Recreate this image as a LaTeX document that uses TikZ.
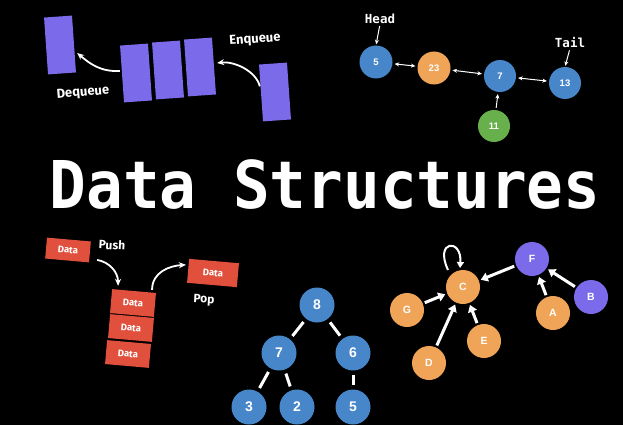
\documentclass[tikz,border=0pt]{standalone}
\usepackage{fontspec}
\setmainfont{Fira Sans}
\newfontfamily\monofont{DejaVu Sans Mono}
\newfontfamily\numfont{Liberation Sans}
\usetikzlibrary{arrows.meta,calc}
\definecolor{qpurple}{RGB}{123,106,234}
\definecolor{nblue}{RGB}{72,134,202}
\definecolor{norange}{RGB}{240,164,88}
\definecolor{ngreen}{RGB}{104,176,76}
\definecolor{sred}{RGB}{224,80,60}
\tikzset{
  qbox/.style={fill=qpurple, draw=none, minimum width=28pt, minimum height=57pt, inner sep=0pt, rotate=4},
  sbox/.style={fill=sred, draw=none, minimum width=44pt, minimum height=21pt, inner sep=0pt, rotate=-5, text=white, font=\bfseries\fontsize{9.5}{10}\selectfont},
  lbl/.style={text=white, font=\bfseries\fontsize{13}{14}\selectfont, inner sep=0pt},
  mlbl/.style={text=white, font=\monofont\bfseries\fontsize{12.5}{13}\selectfont, inner sep=0pt},
  llnode/.style={circle, draw=none, minimum size=33pt, inner sep=0pt, text=white, font=\numfont\bfseries\fontsize{9.5}{10}\selectfont},
  trnode/.style={circle, fill=nblue, draw=none, minimum size=35pt, inner sep=0pt, text=white, font=\numfont\bfseries\fontsize{14}{15}\selectfont},
  grnode/.style={circle, draw=none, minimum size=34pt, inner sep=0pt, text=white, font=\numfont\bfseries\fontsize{10.5}{11}\selectfont},
  qarrow/.style={draw=white, line width=1.8pt, -{Stealth[length=7pt,width=6pt]}},
  larrow/.style={draw=white, line width=1pt, -{Stealth[length=4.5pt,width=4pt]}},
  lldarrow/.style={draw=white, line width=1pt, {Stealth[length=4.5pt,width=4pt]}-{Stealth[length=4.5pt,width=4pt]}, shorten <=2pt, shorten >=2pt},
  tedge/.style={draw=white, line width=3pt, shorten <=4pt, shorten >=4pt},
  garrow/.style={draw=white, line width=3pt, -{Triangle[length=7pt,width=9pt]}, shorten <=2pt, shorten >=2pt},
}
\begin{document}
\begin{tikzpicture}[x=1pt,y=-1pt]
\fill[black] (0,0) rectangle (623,425);
\useasboundingbox (0,0) rectangle (623,425);

% Title
\node[text=white, font=\monofont\bfseries\fontsize{61}{64}\selectfont, inner sep=0pt, yscale=1.08] (title) at (325,185) {Data Structures};

% Queue
\node[qbox] (q0) at (60,45) {};
\node[qbox] (q1) at (136,73) {};
\node[qbox] (q2) at (168,70) {};
\node[qbox] (q3) at (200,67) {};
\node[qbox] (q4) at (275,92) {};
\node[lbl, rotate=4] (enq) at (255,40) {Enqueue};
\node[lbl, rotate=5] (deq) at (83,93) {Dequeue};
\coordinate (deqs) at ($(q1.west)+(-2,-3)$);
\coordinate (deqe) at ($(q0.east)+(3,9)$);
\draw[qarrow] (deqs) .. controls +(-20,1) and +(12,10) .. (deqe);
\coordinate (enqs) at ($(q4.north west)+(1,22)$);
\coordinate (enqe) at ($(q3.east)+(3,-3)$);
\draw[qarrow] (enqs) .. controls +(-4,-16) and +(16,-2) .. (enqe);

% Linked list
\node[llnode, fill=nblue] (n5) at (376,62) {5};
\node[llnode, fill=norange] (n23) at (434,68) {23};
\node[llnode, fill=nblue, minimum size=32pt] (n7) at (500,76) {7};
\node[llnode, fill=nblue, minimum size=32pt] (n13) at (565,83) {13};
\node[llnode, fill=ngreen, minimum size=32pt] (n11) at (494,126) {11};
\node[mlbl] (head) at (380,19) {Head};
\node[mlbl] (tail) at (570,43) {Tail};
\draw[larrow, shorten <=2pt, shorten >=1pt] (head.south) -- (n5.north);
\draw[larrow, shorten <=2pt, shorten >=1pt] (tail.south) -- (n13.north);
\draw[lldarrow] (n5) -- (n23);
\draw[lldarrow] (n23) -- (n7);
\draw[lldarrow] (n7) -- (n13);
\draw[larrow, shorten <=2pt, shorten >=2pt] (n11) -- (n7);

% Stack
\node[sbox] (s0) at (68,250) {Data};
\node[sbox, minimum height=24pt] (s1) at (133,303) {Data};
\node[sbox, minimum height=24pt] (s2) at (131,328) {Data};
\node[sbox, minimum height=24pt] (s3) at (128,354) {Data};
\node[sbox, minimum width=50pt, minimum height=24pt] (s4) at (213,273) {Data};
\node[lbl, font=\bfseries\fontsize{12}{13}\selectfont, rotate=-3] (push) at (112,245) {Push};
\node[lbl, font=\bfseries\fontsize{12}{13}\selectfont, rotate=-3] (pop) at (204,300) {Pop};
\coordinate (pushs) at ($(s0.east)+(7,8)$);
\coordinate (pushe) at ($(s1.north)+(-16,-5)$);
\draw[qarrow] (pushs) .. controls +(12,2) and +(0,-14) .. (pushe);
\coordinate (pops) at ($(s1.north)+(18,-1)$);
\coordinate (pope) at ($(s4.west)+(-2,-6)$);
\draw[qarrow] (pops) .. controls +(0,-18) and +(-16,1) .. (pope);

% Tree
\node[trnode] (t8) at (317,305) {8};
\node[trnode] (t7) at (279,353) {7};
\node[trnode] (t6) at (353,353) {6};
\node[trnode] (t3) at (249,407) {3};
\node[trnode] (t2) at (297,407) {2};
\node[trnode] (t5) at (353,407) {5};
\draw[tedge] (t8) -- (t7);
\draw[tedge] (t8) -- (t6);
\draw[tedge] (t7) -- (t3);
\draw[tedge] (t7) -- (t2);
\draw[tedge] (t6) -- (t5);

% Graph
\node[grnode, fill=norange] (gC) at (463,287) {C};
\node[grnode, fill=qpurple] (gF) at (532,259) {F};
\node[grnode, fill=qpurple] (gB) at (591,297) {B};
\node[grnode, fill=norange] (gA) at (553,313) {A};
\node[grnode, fill=norange] (gG) at (407,310) {G};
\node[grnode, fill=norange] (gE) at (484,341) {E};
\node[grnode, fill=norange] (gD) at (429,363) {D};
\draw[garrow] (gF) -- (gC);
\draw[garrow] (gG) -- (gC);
\draw[garrow] (gD) -- (gC);
\draw[garrow] (gE) -- (gC);
\draw[garrow] (gA) -- (gF);
\draw[garrow] (gB) -- (gF);
\coordinate (ls) at ($(gC)+(-15,-17)$);
\coordinate (le) at ($(gC)+(-3,-19)$);
\draw[draw=white, line width=2pt, -{Triangle[length=6pt,width=7pt]}] (ls) .. controls +(-14,-30) and +(2,-30) .. (le);
\end{tikzpicture}
\end{document}
